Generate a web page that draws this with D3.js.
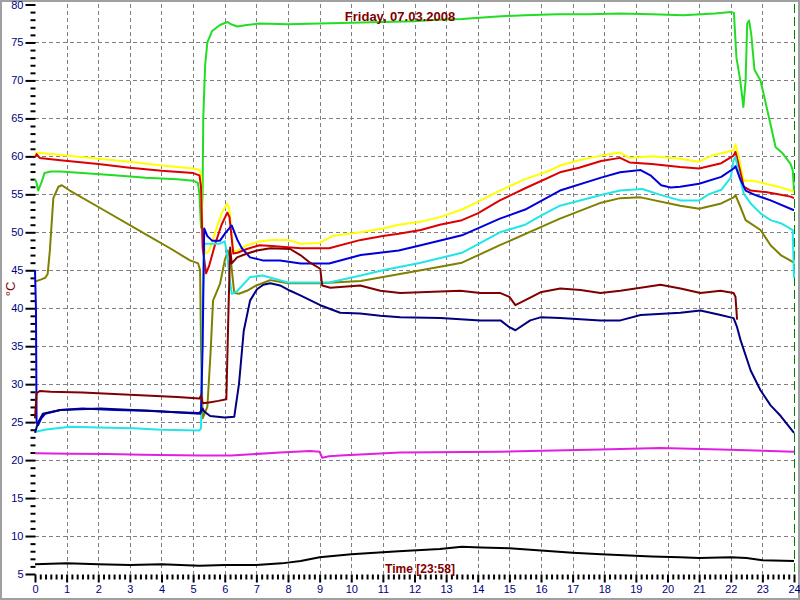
<!DOCTYPE html>
<html><head><meta charset="utf-8">
<script src="https://cdn.jsdelivr.net/npm/d3@7"></script>
<style>body{margin:0;background:#fff}svg{display:block}text{font-family:"Liberation Sans",Arial,sans-serif}</style>
</head><body>
<svg id="c" width="800" height="600"></svg>
<script>
const title = "Friday, 07.03.2008";
const xLabel = "Time [23:58]";
const yLabel = "°C";
const yTicks = [5,10,15,20,25,30,35,40,45,50,55,60,65,70,75,80];
const xTicks = d3.range(0,25);

const green = [[0,57.0],[0.05,56.5],[0.1,55.5],[0.2,56.5],[0.3,57.8],[0.5,58.0],[0.8,58.0],[1.5,57.8],[2.5,57.5],[3.5,57.2],[4.5,57.0],[5.0,56.8],[5.15,56.5],[5.2,55],[5.25,50.6],[5.3,55],[5.32,65],[5.38,72],[5.45,75],[5.6,76.5],[5.85,77.3],[6.08,77.7],[6.2,77.4],[6.4,77.1],[6.7,77.3],[7.1,77.5],[8,77.4],[9,77.5],[10,77.6],[11,77.7],[12,77.8],[12.7,78.0],[13.5,78.1],[14.5,78.4],[15.5,78.6],[16.5,78.7],[17.5,78.7],[18.5,78.8],[19.5,78.7],[20.5,78.6],[21.5,78.8],[22.0,79.0],[22.1,78.9],[22.18,73],[22.3,70],[22.4,66.5],[22.47,70],[22.52,77.5],[22.58,77.9],[22.65,76],[22.75,71.4],[22.94,70],[23.16,66],[23.42,61.2],[23.64,60.4],[23.89,59],[23.96,58.2],[24,55.5]];
const yellow = [[0,60.5],[0.5,60.3],[1,60.1],[2,59.7],[3,59.3],[4,58.8],[5,58.4],[5.2,58.2],[5.25,57.5],[5.3,50],[5.4,47.2],[5.5,47.5],[5.7,50],[5.9,52.5],[6.08,53.8],[6.15,53],[6.27,47.5],[6.4,47.6],[6.7,48.3],[7.1,48.8],[7.5,49],[8,49],[8.4,48.5],[9,48.6],[9.4,49.5],[10.3,50],[11,50.5],[11.5,51],[12.2,51.4],[12.8,52],[13.5,53],[14,54],[14.7,55.5],[15.5,57],[16.2,58],[16.6,58.8],[17.2,59.5],[17.9,60.1],[18.5,60.5],[18.8,59.8],[19.5,60],[20.4,59.7],[21,59.3],[21.4,60.1],[21.8,60.5],[22.09,60.8],[22.15,61.6],[22.25,60],[22.41,56.8],[22.69,56.8],[23.1,56.4],[23.5,56],[23.89,55.5],[24,55.3]];
const red = [[0,59.9],[0.05,60.3],[0.15,59.8],[0.8,59.5],[2,59],[3,58.5],[4,58.1],[5,57.8],[5.2,57.5],[5.25,56],[5.3,48],[5.41,44.6],[5.5,45.5],[5.7,48.5],[5.9,51],[6.08,52.6],[6.15,52],[6.27,47.2],[6.4,47.3],[6.7,47.8],[7.1,48.3],[7.5,48.2],[8.4,47.9],[9.3,47.9],[10.3,49],[11,49.5],[11.5,49.8],[12.2,50.3],[12.8,51],[13.5,51.6],[14,52.5],[14.7,54.2],[15.5,55.8],[16.6,57.9],[17.2,58.5],[17.9,59.4],[18.5,59.8],[18.8,59.2],[19.5,59],[20.4,58.6],[21,58.4],[21.7,59.1],[22.09,60.1],[22.15,60.6],[22.3,58],[22.41,56],[22.63,55.5],[23.1,55.3],[23.5,55],[23.89,54.7],[24,54.5]];
const blue = [[0,45],[0.03,40],[0.05,25],[0.1,24.6],[0.2,25.5],[0.32,26.1],[0.8,26.6],[1.5,26.8],[2.5,26.6],[3.5,26.5],[4.5,26.3],[5.2,26.2],[5.25,26.5],[5.3,35],[5.35,50.5],[5.45,49.5],[5.6,48.9],[5.85,48.9],[6.0,49.8],[6.22,50.9],[6.4,49],[6.54,47.9],[6.8,46.7],[7.2,46.3],[7.75,46.3],[8.4,45.9],[9.3,45.9],[10.3,47],[11.5,47.6],[12.2,48.3],[13.5,49.6],[14.7,51.8],[15.5,53],[16.6,55.5],[17.9,57.2],[18.5,57.9],[19.15,58.2],[19.46,57.5],[19.8,56.2],[20.1,55.9],[20.4,56],[21,56.4],[21.7,57.3],[22.09,58.4],[22.15,58.7],[22.3,57],[22.47,55.5],[22.78,54.9],[23.26,54.2],[24,52.9]];
const cyan = [[0,23.7],[0.3,24.0],[1.1,24.4],[2,24.3],[3.1,24.2],[4,24.0],[5.2,23.9],[5.25,24.2],[5.3,40],[5.35,48.5],[5.54,48.5],[5.85,48.5],[6.0,48.8],[6.08,47],[6.15,44.1],[6.22,41.9],[6.4,42.3],[6.8,44.1],[7.2,44.3],[8,43.4],[9.3,43.4],[10.3,44.3],[11,45],[12.2,46],[13.5,47.3],[14.7,50],[15.5,51],[16,52.2],[16.6,53.5],[17.9,54.9],[18.5,55.5],[19.2,55.7],[19.8,54.9],[20.4,54.2],[21,54.2],[21.3,55],[21.7,55.6],[22.0,57.2],[22.09,59.5],[22.15,59.9],[22.25,57.8],[22.41,55.1],[22.63,53.8],[22.94,52.5],[23.26,51.6],[23.58,51.2],[23.96,50.3],[24,44]];
const olive = [[0,43.5],[0.2,43.8],[0.32,44],[0.4,44.5],[0.47,47.6],[0.58,54.5],[0.74,56],[0.85,56.2],[1.1,55.5],[2.06,53.2],[3.6,49.5],[4.27,47.9],[4.9,46.3],[5.16,45.9],[5.22,45],[5.25,35],[5.3,25.5],[5.45,27],[5.55,34],[5.63,41],[5.85,43.2],[6.0,46.3],[6.1,47.6],[6.2,46],[6.3,42],[6.45,41.9],[6.7,42.3],[7.0,43],[7.44,43.7],[8,43.3],[9,43.3],[10.3,43.6],[12.2,45],[13.5,46],[14.7,48.3],[16.6,51.8],[17.9,53.9],[18.5,54.5],[19.15,54.6],[20.4,53.5],[21,53.1],[21.7,53.8],[22.09,54.6],[22.15,54.9],[22.31,53.3],[22.47,51.6],[22.94,50.3],[23.1,49.3],[23.26,48.3],[23.58,47],[24,46]];
const maroon = [[0,25.5],[0.05,28.8],[0.15,29.1],[0.5,29],[1.5,28.9],[2.5,28.7],[3.5,28.5],[4.5,28.3],[5.2,28.1],[5.25,28.5],[5.3,27.5],[5.5,27.6],[5.8,27.8],[6.05,28],[6.12,40],[6.17,48],[6.22,45.9],[6.39,46.7],[6.71,47.2],[7.02,47.6],[7.44,47.9],[8.07,47.8],[8.39,47],[8.7,46],[9.02,45.2],[9.08,43],[9.34,42.7],[10.28,43],[10.92,42.3],[11.55,42],[12.18,42.1],[13.45,42.3],[14.08,42],[14.72,42],[15.0,41.5],[15.19,40.4],[15.66,41.4],[15.98,42.1],[16.61,42.6],[17.25,42.4],[17.88,42],[18.51,42.3],[19.15,42.7],[19.78,43.1],[20.41,42.6],[21.04,42],[21.68,42.3],[22.09,42],[22.15,41.5],[22.2,38.5]];
const navy = [[0,23.6],[0.1,25],[0.25,26.1],[0.8,26.6],[2.06,26.8],[3.64,26.5],[5.22,26.1],[5.3,26.8],[5.35,26.4],[5.54,25.8],[6.0,25.6],[6.3,25.7],[6.45,30],[6.6,37],[6.8,41],[7.02,42.5],[7.22,43.1],[7.44,43.3],[7.75,43],[8.07,42.3],[8.39,41.7],[9.02,40.4],[9.65,39.4],[10.28,39.3],[10.92,39],[11.55,38.8],[12.82,38.7],[14.08,38.4],[14.72,38.4],[15.0,37.5],[15.19,37.1],[15.66,38.4],[15.98,38.8],[16.61,38.7],[17.88,38.4],[18.51,38.4],[19.15,39.1],[20.41,39.4],[21.04,39.7],[21.68,39.1],[22.09,38.7],[22.2,37.5],[22.31,35.8],[22.63,31.8],[22.94,29.2],[23.26,27.2],[23.58,25.8],[24,23.6]];
const magenta = [[0,20.9],[1.1,20.85],[2.3,20.8],[3.4,20.7],[5.2,20.6],[6.2,20.6],[7.75,21],[8.7,21.2],[9.0,21.1],[9.08,20.3],[9.3,20.5],[9.65,20.6],[11.55,21],[14.72,21.1],[17.88,21.4],[19.78,21.6],[21.68,21.4],[24,21.1]];
const black = [[0,6.3],[1,6.4],[2,6.3],[3,6.2],[4,6.3],[5.2,6.1],[6,6.2],[7,6.2],[7.8,6.4],[8.4,6.7],[9.0,7.2],[10,7.6],[11.5,8.0],[12.8,8.3],[13.5,8.6],[14.1,8.5],[15,8.4],[16,8.1],[17,7.8],[17.9,7.6],[19.5,7.3],[20.4,7.2],[21,7.1],[22,7.2],[22.5,7.1],[23,6.8],[24,6.7]];

const seriesList = [
  {d: green, c: "#22dd22"},
  {d: yellow, c: "#ffff00"},
  {d: red, c: "#dd0000"},
  {d: olive, c: "#808000"},
  {d: cyan, c: "#22e6e6"},
  {d: blue, c: "#0000dd"},
  {d: maroon, c: "#800000"},
  {d: navy, c: "#000080"},
  {d: magenta, c: "#e020e0"},
  {d: black, c: "#000000"}
];

const svg = d3.select("#c");
const x = d3.scaleLinear().domain([0,24]).range([35,794]);
const y = d3.scaleLinear().domain([5,80]).range([574,4.5]);

svg.append("rect").attr("x",1).attr("y",1).attr("width",798).attr("height",598)
  .attr("fill","#fff").attr("stroke","#a0a0a0").attr("stroke-width",2);

// grid
const g = svg.append("g");
g.selectAll(".hg").data(yTicks.filter(v=>v>5&&v<80)).enter().append("line")
  .attr("x1",35).attr("x2",794).attr("y1",d=>Math.round(y(d))+0.5).attr("y2",d=>Math.round(y(d))+0.5)
  .attr("stroke","#808080").attr("stroke-dasharray","4,3");
g.selectAll(".vg").data(xTicks.filter(v=>v>0&&v<24)).enter().append("line")
  .attr("y1",4).attr("y2",574).attr("x1",d=>Math.round(x(d))+0.5).attr("x2",d=>Math.round(x(d))+0.5)
  .attr("stroke","#808080").attr("stroke-dasharray","4,3");
// cursor line at end
svg.append("line").attr("x1",Math.round(x(24))+0.5).attr("x2",Math.round(x(24))+0.5).attr("y1",4).attr("y2",574)
  .attr("stroke","#008000").attr("stroke-dasharray","9,4");

// y axis
const yAxis = d3.axisLeft(y).tickValues(yTicks).tickSize(10).tickPadding(2).tickFormat(d3.format("d"));
svg.append("g").attr("transform","translate(35.5,0)").call(yAxis);
const yMinor = d3.axisLeft(y).tickValues(d3.range(5,81).filter(v=>v%5!==0)).tickSize(5).tickFormat("");
svg.append("g").attr("transform","translate(35.5,0)").call(yMinor);
// x axis
const xAxis = d3.axisBottom(x).tickValues(xTicks).tickSize(8).tickPadding(3).tickFormat(d3.format("d"));
svg.append("g").attr("transform","translate(0,574.5)").call(xAxis);
const xMinor = d3.axisBottom(x).tickValues(d3.range(0,24*6+1).filter(v=>v%6!==0).map(v=>v/6)).tickSize(5).tickFormat("");
svg.append("g").attr("transform","translate(0,574.5)").call(xMinor);
svg.selectAll(".domain").remove();
svg.selectAll(".tick line").attr("stroke","#000").attr("stroke-width",2);
svg.selectAll(".tick text").attr("fill","#000080").style("font-size","11px").style("font-family","Liberation Sans, Arial, sans-serif");

// lines
const line = d3.line().x(d=>x(d[0])).y(d=>y(d[1]));
svg.append("g").selectAll("path").data(seriesList).enter().append("path")
  .attr("d",s=>line(s.d)).attr("fill","none").attr("stroke",s=>s.c).attr("stroke-width",2).attr("stroke-linejoin","round");

// labels
svg.append("text").attr("x",400).attr("y",21).attr("text-anchor","middle").attr("fill","#800000")
  .style("font-size","13px").style("font-weight","bold").text(title);
svg.append("text").attr("x",420).attr("y",573).attr("text-anchor","middle").attr("fill","#800000")
  .style("font-size","12px").style("font-weight","bold").text(xLabel);
svg.append("text").attr("transform","translate(15,289) rotate(-90)").attr("text-anchor","middle").attr("fill","#800000")
  .style("font-size","13px").text(yLabel);
</script>
</body></html>
